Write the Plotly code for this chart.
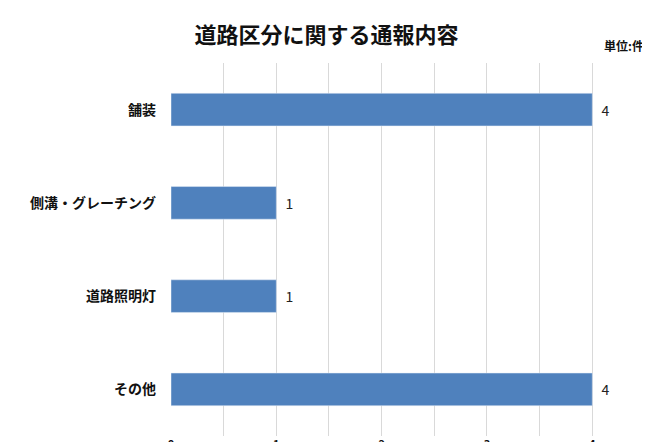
import plotly.graph_objects as go

categories = ["舗装", "側溝・グレーチング", "道路照明灯", "その他"]
counts = [4, 1, 1, 4]
x_ticks = [0, 0.5, 1, 1.5, 2, 2.5, 3, 3.5, 4, 4.5]
x_labels = ["<b>0</b>", "", "<b>1</b>", "", "<b>2</b>", "", "<b>3</b>", "", "<b>4</b>", ""]

font = "Noto Sans CJK JP"

fig = go.Figure(go.Bar(
    x=counts, y=categories, orientation="h",
    marker=dict(color="#4f81bd"), width=0.35,
    text=["  " + str(c) for c in counts], textposition="outside",
    textfont=dict(size=14, color="#222"), cliponaxis=False,
))

fig.update_layout(
    width=650, height=442,
    margin=dict(l=163, r=12, t=55, b=14),
    plot_bgcolor="white", paper_bgcolor="white",
    font=dict(family=font),
    showlegend=False,
    title=dict(text="<b>道路区分に関する通報内容</b>", x=0.49, xanchor="center",
               y=0.955, font=dict(size=22, color="#111")),
    annotations=[dict(text="<b>単位:件</b>", xref="paper", yref="paper",
                      x=1.0, y=1.02, xanchor="right", yanchor="bottom",
                      showarrow=False, font=dict(size=12, color="#111"))],
)
fig.update_xaxes(range=[0, 4.51], tickvals=x_ticks, ticktext=x_labels,
                 showgrid=True, gridcolor="#d9d9d9", zeroline=False,
                 tickfont=dict(size=11, color="#111"), ticklen=0,
                 automargin=False)
fig.update_yaxes(categoryorder="array", categoryarray=categories[::-1],
                 tickfont=dict(size=14, color="#111"),
                 tickprefix="<b>", ticksuffix="</b>",
                 ticklabelstandoff=14, automargin=False,
                 showline=False, ticks="")

fig.write_html("out.html")
